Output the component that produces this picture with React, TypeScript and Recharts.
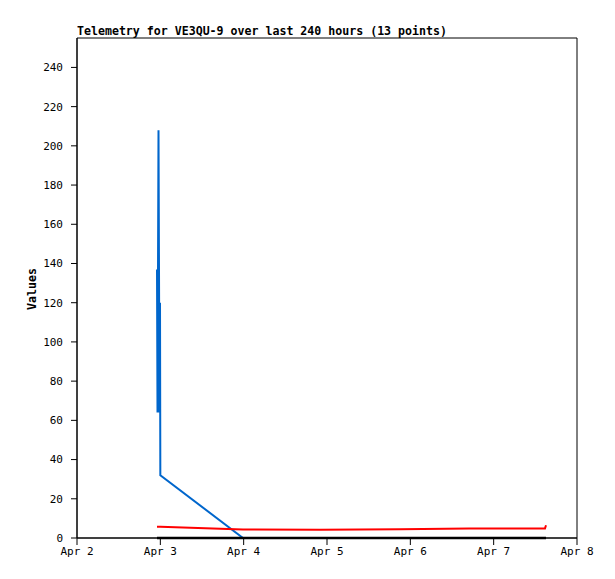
import React from 'react';
import { LineChart, Line, XAxis, YAxis, ReferenceArea } from 'recharts';

// time in days since Apr 2 00:00
const times = [0.96, 0.966, 0.978, 0.99, 0.996, 1.0, 1.992, 2.916, 3.876, 4.704, 5.076, 5.616, 5.628];
const blueValues = [137, 64, 208, 64, 120, 32, 0, 0, 0, 0, 0, 0, 0];
const redValues = [5.8, 5.8, 5.8, 5.8, 5.8, 5.8, 4.3, 4.2, 4.4, 4.8, 4.8, 4.9, 6.5];
const blackValues = [0, 0, 0, 0, 0, 0, 0, 0, 0, 0, 0, 0, 0];
const xTicks = [0, 1, 2, 3, 4, 5, 6];
const xTickLabels = ['Apr 2', 'Apr 3', 'Apr 4', 'Apr 5', 'Apr 6', 'Apr 7', 'Apr 8'];
const yTicks = [0, 20, 40, 60, 80, 100, 120, 140, 160, 180, 200, 220, 240];
const title = 'Telemetry for VE3QU-9 over last 240 hours (13 points)';

const data = times.map((t, i) => ({ t, blue: blueValues[i], red: redValues[i], black: blackValues[i] }));

const font = '"DejaVu Sans Mono", monospace';

export default function App() {
  return (
    <div style={{ position: 'absolute', left: 0, top: 0, width: 615, height: 579, background: '#fff' }}>
      <LineChart width={615} height={579} data={data} margin={{ top: 38, right: 38, bottom: 11, left: 0 }}>
        <XAxis
          dataKey="t"
          type="number"
          domain={[0, 6]}
          ticks={xTicks}
          tickFormatter={(v: number) => xTickLabels[v]}
          height={30}
          stroke="#000"
          tickSize={7}
          tick={{ fill: '#000', fontSize: 11, fontFamily: font }}
        />
        <YAxis
          type="number"
          domain={[0, 255]}
          ticks={yTicks}
          width={77}
          stroke="#000"
          tickSize={6}
          tickMargin={8}
          tick={{ fill: '#000', fontSize: 11, fontFamily: font }}
        />
        <ReferenceArea x1={0} x2={6} y1={0} y2={255} fill="none" stroke="#000" strokeWidth={1} />
        <Line type="linear" dataKey="blue" stroke="#0066cc" strokeWidth={2} dot={false} isAnimationActive={false} />
        <Line type="linear" dataKey="red" stroke="#ff0000" strokeWidth={2} dot={false} isAnimationActive={false} />
        <Line type="linear" dataKey="black" stroke="#000000" strokeWidth={2.5} dot={false} isAnimationActive={false} />
        <text x={77} y={35} fontFamily={font} fontSize={11.6} fontWeight="bold" fill="#000">{title}</text>
        <text x={36} y={289} fontFamily={font} fontSize={11.6} fontWeight="bold" fill="#000" textAnchor="middle" transform="rotate(-90 36 289)">Values</text>
      </LineChart>
    </div>
  );
}
